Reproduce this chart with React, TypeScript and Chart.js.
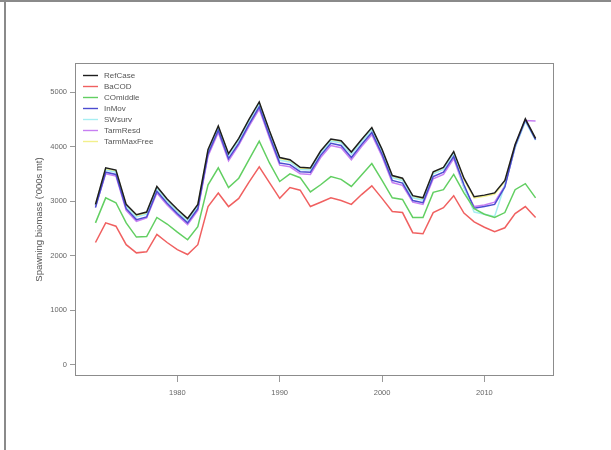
import React, { useEffect, useRef } from "react";
import { Chart, registerables } from "chart.js";

Chart.register(...registerables);

const years = [
  1972, 1973, 1974, 1975, 1976, 1977, 1978, 1979, 1980, 1981,
  1982, 1983, 1984, 1985, 1986, 1987, 1988, 1989, 1990, 1991,
  1992, 1993, 1994, 1995, 1996, 1997, 1998, 1999, 2000, 2001,
  2002, 2003, 2004, 2005, 2006, 2007, 2008, 2009, 2010, 2011,
  2012, 2013, 2014, 2015,
];

const refCase = [
  2940, 3610, 3570, 2940, 2750, 2800, 3270, 3040, 2850, 2680,
  2940, 3950, 4380, 3870, 4150, 4500, 4820, 4290, 3800, 3760,
  3620, 3610, 3920, 4140, 4110, 3900, 4130, 4350, 3950, 3470,
  3420, 3100, 3060, 3540, 3620, 3910, 3420, 3080, 3110, 3150,
  3380, 4040, 4510, 4150,
];

const baCOD = [
  2240, 2600, 2540, 2200, 2050, 2070, 2390, 2240, 2110, 2020,
  2200, 2900, 3150, 2900, 3050, 3350, 3630, 3340, 3050, 3250,
  3200, 2900, 2980, 3060, 3010, 2940, 3120, 3280, 3050, 2810,
  2790, 2420, 2400, 2790, 2880, 3100, 2780, 2620, 2520, 2440,
  2510, 2770, 2900, 2700,
];

const coMiddle = [
  2600, 3060, 2970, 2600, 2340, 2350, 2700, 2580, 2430, 2290,
  2530, 3300, 3610, 3250, 3420, 3760, 4100, 3700, 3360, 3500,
  3430, 3170, 3300, 3450, 3400, 3270, 3480, 3690, 3380, 3060,
  3030, 2700, 2700, 3160, 3210, 3490, 3150, 2860, 2760, 2700,
  2790, 3210, 3320, 3060,
];

const inMov = [
  2880, 3530, 3490, 2860, 2660, 2710, 3180, 2960, 2770, 2600,
  2860, 3870, 4300, 3780, 4060, 4410, 4730, 4200, 3700, 3670,
  3540, 3530, 3840, 4060, 4020, 3800, 4040, 4260, 3860, 3380,
  3330, 3010, 2970, 3450, 3530, 3820, 3300, 2870, 2900, 2940,
  3260, 4010, 4490, 4130,
];

const swSurv = [
  2920, 3570, 3530, 2900, 2710, 2760, 3230, 3000, 2810, 2640,
  2900, 3910, 4340, 3830, 4110, 4460, 4780, 4250, 3750, 3720,
  3580, 3570, 3880, 4100, 4070, 3860, 4090, 4310, 3910, 3430,
  3380, 3060, 3020, 3500, 3580, 3870, 3250, 2800, 2760, 2720,
  3300, 3980, 4460, 4120,
];

const tarmResd = [
  2900, 3500, 3460, 2830, 2630, 2690, 3150, 2930, 2740, 2570,
  2830, 3830, 4260, 3740, 4030, 4370, 4690, 4160, 3660, 3630,
  3500, 3490, 3800, 4020, 3980, 3760, 4000, 4220, 3820, 3340,
  3290, 2980, 2940, 3410, 3490, 3780, 3250, 2900, 2930, 2980,
  3280, 3990, 4480, 4470,
];

const tarmMaxFree = [
  2930, 3590, 3550, 2920, 2730, 2780, 3250, 3020, 2830, 2660,
  2920, 3930, 4360, 3850, 4130, 4480, 4800, 4270, 3780, 3740,
  3600, 3590, 3900, 4120, 4090, 3880, 4110, 4330, 3930, 3450,
  3400, 3080, 3040, 3520, 3600, 3890, 3400, 3060, 3090, 3130,
  3360, 4020, 4490, 4140,
];

const seriesNames = ["RefCase", "BaCOD", "COmiddle", "InMov", "SWsurv", "TarmResd", "TarmMaxFree"];
const seriesValues = [refCase, baCOD, coMiddle, inMov, swSurv, tarmResd, tarmMaxFree];
const seriesColors = ["#1e1e1e", "#f06060", "#62cf62", "#4c4cd0", "#a6eef2", "#c77ff2", "#f2f08c"];

const xTicks = [1980, 1990, 2000, 2010];
const yTicks = [0, 1000, 2000, 3000, 4000, 5000];
const yTitle = "Spawning biomass ('000s mt)";

const FONT = "'Liberation Sans', Arial, sans-serif";

const decorPlugin = {
  id: "decor",
  afterDraw(chart: any) {
    const { ctx, chartArea: a } = chart;
    ctx.save();
    ctx.strokeStyle = "#8c8c8c";
    ctx.lineWidth = 1;
    ctx.strokeRect(a.left + 0.5, a.top + 0.5, a.right - a.left - 1, a.bottom - a.top - 1);

    // legend
    ctx.font = `8px ${FONT}`;
    ctx.textBaseline = "middle";
    ctx.textAlign = "left";
    seriesNames.forEach((name, i) => {
      const y = a.top + 12.5 + i * 11;
      ctx.strokeStyle = seriesColors[i];
      ctx.lineWidth = 1.4;
      ctx.beginPath();
      ctx.moveTo(a.left + 8, y);
      ctx.lineTo(a.left + 23, y);
      ctx.stroke();
      ctx.fillStyle = "#555";
      ctx.fillText(name, a.left + 29, y);
    });

    // y title
    ctx.translate(39, (a.top + a.bottom) / 2);
    ctx.rotate(-Math.PI / 2);
    ctx.textAlign = "center";
    ctx.fillStyle = "#555";
    ctx.font = `9.5px ${FONT}`;
    ctx.fillText(yTitle, 0, 0);
    ctx.restore();
  },
};

export default function App() {
  const ref = useRef<HTMLCanvasElement | null>(null);

  useEffect(() => {
    if (!ref.current) return;
    const datasets = seriesNames.map((name, i) => ({
      label: name,
      data: years.map((yr, j) => ({ x: yr, y: seriesValues[i][j] })),
      borderColor: seriesColors[i],
      backgroundColor: seriesColors[i],
      borderWidth: 1.5,
      pointRadius: 0,
      tension: 0,
      fill: false,
    }));
    const chart = new Chart(ref.current, {
      type: "line",
      data: { datasets },
      options: {
        animation: false,
        responsive: false,
        maintainAspectRatio: false,
        layout: { padding: { left: 0, top: 63, right: 57, bottom: 0 } },
        plugins: {
          legend: { display: false },
          tooltip: { enabled: false },
        },
        scales: {
          x: {
            type: "linear",
            min: 1970.0,
            max: 2016.8,
            afterFit: (s: any) => {
              s.height = 74;
            },
            afterBuildTicks: (s: any) => {
              s.ticks = xTicks.map((v) => ({ value: v }));
            },
            grid: { drawOnChartArea: false, drawTicks: true, tickLength: 6, color: "#999" },
            border: { display: false },
            ticks: {
              color: "#666",
              font: { family: FONT, size: 7.5 },
              padding: 6,
              maxRotation: 0,
              autoSkip: false,
              callback: (v: any) => String(v),
            },
          },
          y: {
            type: "linear",
            min: -210,
            max: 5535,
            afterFit: (s: any) => {
              s.width = 75;
            },
            afterBuildTicks: (s: any) => {
              s.ticks = yTicks.map((v) => ({ value: v }));
            },
            grid: { drawOnChartArea: false, drawTicks: true, tickLength: 5, color: "#999" },
            border: { display: false },
            ticks: {
              color: "#666",
              font: { family: FONT, size: 7.5 },
              padding: 3,
              autoSkip: false,
              callback: (v: any) => String(v),
            },
          },
        },
      },
      plugins: [decorPlugin],
    });
    return () => chart.destroy();
  }, []);

  return (
    <div style={{ position: "fixed", left: 0, top: 0, width: 611, height: 450, background: "#fff", overflow: "hidden" }}>
      <div style={{ position: "absolute", left: 0, top: 0, width: 611, height: 2, background: "#8a8a8a" }} />
      <div style={{ position: "absolute", left: 4, top: 0, width: 2, height: 450, background: "#8a8a8a" }} />
      <canvas ref={ref} width={611} height={450} style={{ position: "absolute", left: 0, top: 0, display: "block" }} />
    </div>
  );
}
